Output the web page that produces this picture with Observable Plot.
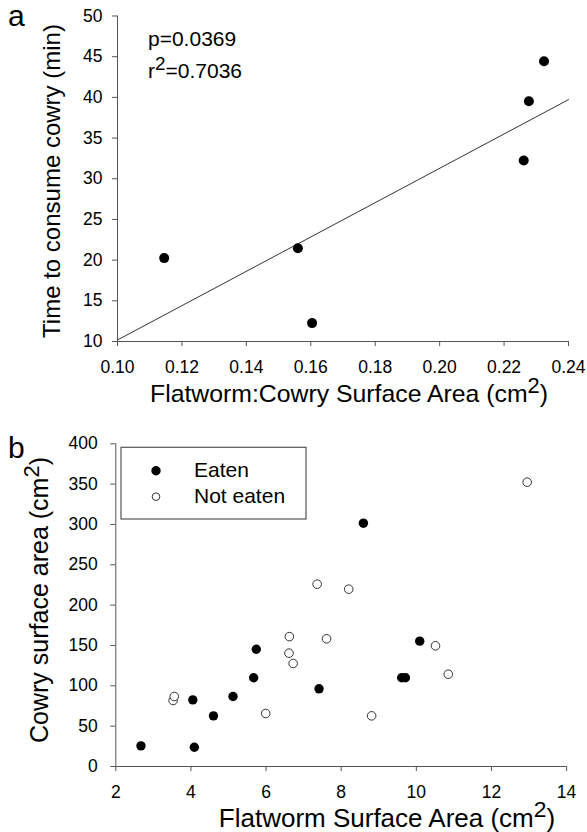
<!DOCTYPE html>
<html>
<head>
<meta charset="utf-8">
<script src="https://cdn.jsdelivr.net/npm/d3@7"></script>
<script src="https://cdn.jsdelivr.net/npm/@observablehq/plot@0.6"></script>
<style>
  body { margin: 0; background: #fff; }
  #wrap { position: relative; width: 587px; height: 832px; background: #fff; font-family: "Liberation Sans", Arial, sans-serif; }
  #pa, #pb { position: absolute; left: 0; }
  #pa { top: 0; }
  #pb { top: 415px; }
</style>
</head>
<body>
<div id="wrap"><div id="pa"></div><div id="pb"></div></div>
<script>
// ---- Panel a data ----
const ratioA = [0.1145, 0.1560, 0.1604, 0.2261, 0.2277, 0.2324];
const timeA  = [20.25, 21.47, 12.26, 32.25, 39.53, 44.45];
const xTicksA = [0.10, 0.12, 0.14, 0.16, 0.18, 0.20, 0.22, 0.24];
const yTicksA = [10, 15, 20, 25, 30, 35, 40, 45, 50];
const statP = "p=0.0369";
const statR2 = "0.7036";

// ---- Panel b data ----
const eatenX = [2.67, 4.09, 4.05, 4.60, 5.12, 5.67, 5.74, 7.41, 9.61, 9.71, 10.09, 8.59];
const eatenY = [25.6, 23.9, 82.6, 62.8, 86.8, 110, 145.4, 96.3, 110, 110, 155.4, 301.6];
const notEatenX = [3.525, 3.555, 5.99, 6.62, 6.61, 6.72, 7.61, 8.81, 10.51, 10.85, 7.36, 8.20, 12.95];
const notEatenY = [81.8, 86.8, 65.7, 161, 140.5, 127.7, 158.3, 62.8, 149.6, 114.4, 226, 219.8, 352.4];
const xTicksB = [2, 4, 6, 8, 10, 12, 14];
const yTicksB = [0, 50, 100, 150, 200, 250, 300, 350, 400];
const legendLabels = ["Eaten", "Not eaten"];

const FONT = '"Liberation Sans", Arial, Helvetica, sans-serif';
const AXIS = "#555";

// ---- Panel a ----
const dataA = ratioA.map((x, i) => ({x, y: timeA[i]}));
// least-squares fit from the data
const mx = d3.mean(ratioA), my = d3.mean(timeA);
const slope = d3.sum(dataA, d => (d.x - mx) * (d.y - my)) / d3.sum(dataA, d => (d.x - mx) ** 2);
const icpt = my - slope * mx;
const xDomA = [xTicksA[0], xTicksA[xTicksA.length - 1]];
const fit = xDomA.map(x => ({x, y: icpt + slope * x}));

const svgA = Plot.plot({
  width: 587, height: 415,
  marginLeft: 117, marginRight: 19, marginTop: 15.5, marginBottom: 74,
  style: {fontFamily: FONT, fontSize: "17.5px", color: "#000", background: "#fff", overflow: "visible"},
  x: {domain: xDomA},
  y: {domain: [yTicksA[0], yTicksA[yTicksA.length - 1]]},
  marks: [
    Plot.axisX({ticks: xTicksA, tickFormat: d3.format(".2f"), tickSize: 5, tickPadding: 14, label: null, stroke: AXIS, fill: "#000"}),
    Plot.axisY({ticks: yTicksA, tickSize: 5, tickPadding: 10, label: null, stroke: AXIS, fill: "#000"}),
    Plot.ruleX([xDomA[0]], {stroke: AXIS}),
    Plot.ruleY([yTicksA[0]], {stroke: AXIS}),
    Plot.line(fit, {x: "x", y: "y", stroke: "#333", strokeWidth: 1}),
    Plot.dot(dataA, {x: "x", y: "y", r: 5, fill: "#000", stroke: "none"})
  ]
});
document.getElementById("pa").appendChild(svgA);

// ---- Panel b ----
const dataB = [
  ...eatenX.map((x, i) => ({x, y: eatenY[i], g: legendLabels[0]})),
  ...notEatenX.map((x, i) => ({x, y: notEatenY[i], g: legendLabels[1]}))
];
const svgB = Plot.plot({
  width: 587, height: 417,
  marginLeft: 115.3, marginRight: 20.9, marginTop: 28.3, marginBottom: 66,
  style: {fontFamily: FONT, fontSize: "17.5px", color: "#000", background: "#fff", overflow: "visible"},
  x: {domain: [xTicksB[0], xTicksB[xTicksB.length - 1]]},
  y: {domain: [yTicksB[0], yTicksB[yTicksB.length - 1]]},
  marks: [
    Plot.axisX({ticks: xTicksB, tickSize: 5, tickPadding: 14, label: null, stroke: AXIS, fill: "#000"}),
    Plot.axisY({ticks: yTicksB, tickSize: 5, tickPadding: 13, label: null, stroke: AXIS, fill: "#000"}),
    Plot.ruleX([xTicksB[0]], {stroke: AXIS}),
    Plot.ruleY([yTicksB[0]], {stroke: AXIS}),
    Plot.dot(dataB.filter(d => d.g === legendLabels[1]), {x: "x", y: "y", r: 4.3, fill: "#fff", stroke: "#333", strokeWidth: 1}),
    Plot.dot(dataB.filter(d => d.g === legendLabels[0]), {x: "x", y: "y", r: 4.7, fill: "#000", stroke: "none"})
  ]
});
document.getElementById("pb").appendChild(svgB);

// ---- text helpers ----
function addText(svg, parts, attrs) {
  const t = d3.select(svg).append("text")
    .attr("font-family", FONT).attr("fill", "#000").attr("text-anchor", "start");
  for (const [k, v] of Object.entries(attrs)) t.attr(k, v);
  parts.forEach(p => {
    if (typeof p === "string") t.append("tspan").text(p);
    else t.append("tspan").attr("dy", p.dy).attr("font-size", p.size || null).text(p.text);
  });
  return t;
}
const sup = (s) => [{text: s, dy: "-0.42em", size: "0.88em"}, {text: ")", dy: "0.37em"}];

// panel a annotations
addText(svgA, ["a"], {x: 8, y: 26, "font-size": 30});
addText(svgA, [statP], {x: 148, y: 45.5, "font-size": 21});
addText(svgA, ["r", {text: "2", dy: "-0.42em", size: "0.9em"}, {text: "=" + statR2, dy: "0.38em"}], {x: 148, y: 78, "font-size": 21});
addText(svgA, ["Time to consume cowry (min)"], {"text-anchor": "middle", transform: "translate(60,181) rotate(-90)", "font-size": 24});
addText(svgA, ["Flatworm:Cowry Surface Area (cm", ...sup("2")], {"text-anchor": "middle", x: 349, y: 401.7, "font-size": 24.8});

// panel b annotations
addText(svgB, ["b"], {x: 8, y: 43, "font-size": 30});
addText(svgB, ["Cowry surface area (cm", ...sup("2")], {"text-anchor": "middle", transform: "translate(48,185) rotate(-90)", "font-size": 25});
addText(svgB, ["Flatworm Surface Area (cm", ...sup("2")], {"text-anchor": "middle", x: 387, y: 411.7, "font-size": 26});

// legend
const lg = d3.select(svgB).append("g").attr("class", "legend");
lg.append("rect").attr("x", 121).attr("y", 32.3).attr("width", 185).attr("height", 71.7)
  .attr("fill", "#fff").attr("stroke", "#555").attr("stroke-width", 1.2);
lg.append("circle").attr("cx", 156).attr("cy", 55.7).attr("r", 4.7).attr("fill", "#000");
lg.append("circle").attr("cx", 156).attr("cy", 81.7).attr("r", 3.8).attr("fill", "#fff").attr("stroke", "#333");
lg.append("text").attr("x", 194).attr("y", 61.7).attr("font-size", 21).attr("font-family", FONT).attr("text-anchor", "start").text(legendLabels[0]);
lg.append("text").attr("x", 194).attr("y", 88.3).attr("font-size", 21).attr("font-family", FONT).attr("text-anchor", "start").text(legendLabels[1]);
</script>
</body>
</html>
